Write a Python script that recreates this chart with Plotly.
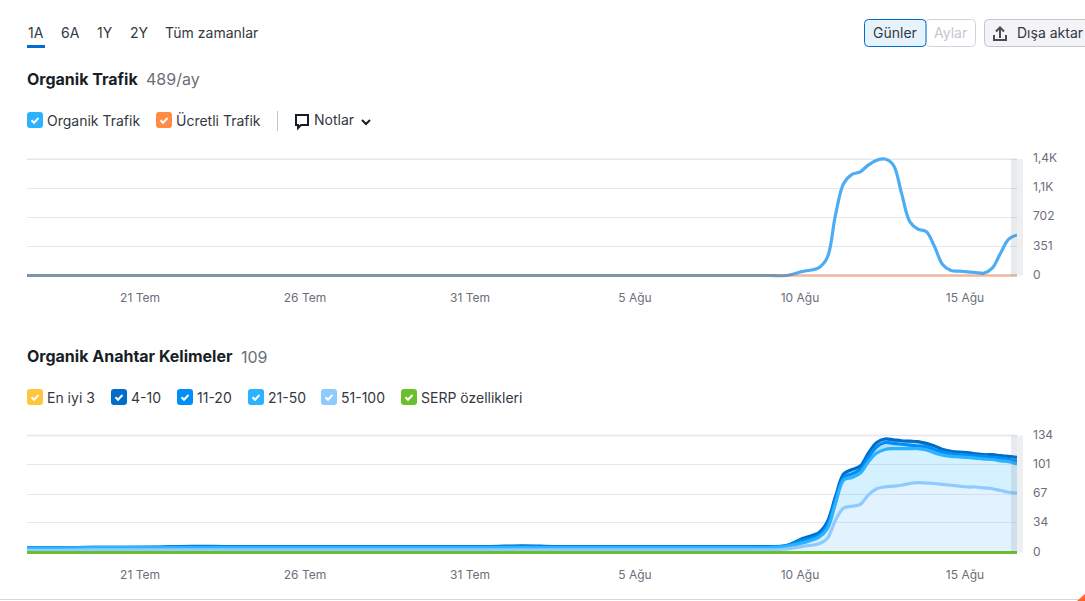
import numpy as np
import pandas as pd
import plotly.graph_objects as go

W = 1085
H = 601

flat_dates = list(pd.date_range("2024-07-18", "2024-08-09"))
curve_dates = list(pd.to_datetime(["2024-08-09 12:00", "2024-08-10 00:00", "2024-08-10 12:00"]))
curve_dates += list(pd.date_range("2024-08-11 00:00", "2024-08-17 00:00", freq="6h"))
dates = flat_dates + curve_dates
tick_dates = ["2024-07-21", "2024-07-26", "2024-07-31", "2024-08-05", "2024-08-10", "2024-08-15"]
tick_labels = ["21 Tem", "26 Tem", "31 Tem", "5 Ağu", "10 Ağu", "15 Ağu"]

organic = [0] * 23 + [0, 0, 48, 96, 215, 731, 1112, 1218, 1250, 1333, 1390, 1404, 1333, 993, 650, 559, 530, 349, 129,
                      60, 52, 44, 36, 28, 88, 269, 438, 489]
paid = [0] * 51
traffic_ticks = [0, 351, 702, 1053, 1404]
traffic_labels = ["0", "351", "702", "1,1K", "1,4K"]

top3 = [0] * 51
kw_51_100 = [2.5, 2.5, 3, 3, 3, 3, 3, 3, 3, 3, 3, 3, 3, 3, 3, 3, 3, 3, 3, 3, 3, 3, 3,
             3, 4, 7, 10, 16, 37, 51, 53, 55, 66, 73, 75, 76, 77, 79, 80,
             79.5, 79, 78, 77, 76, 75, 75, 74, 73, 71, 69, 68]
kw_21_50 = [2.5] * 23 + [2.5, 3, 4, 7.5, 11, 19, 32, 33, 36, 38, 41, 43, 43, 42, 40, 39,
                         38, 35, 33.5, 33, 33.5, 34, 33, 33, 33.5, 34, 35, 33.5]
kw_11_20 = [0.3, 0.3, 0.3, 0.3, 0.5, 0.8, 0.8, 0.8, 0.8, 0.8, 0.8, 0.8, 0.8, 0.8, 0.8, 1, 0.8, 0.8, 0.8, 0.8, 0.8, 0.8,
            0.8, 0.8, 0.6, 3, 2.5, 4, 4, 3, 4, 4, 5, 7, 8, 6, 5, 4, 3,
            3.5, 4, 3.5, 3, 2.5, 2.5, 2.7, 3, 2.5, 3, 2.5, 3.1]
kw_4_10 = [0.2, 0.2, 0.2, 0.2, 0.3, 0.7, 0.5, 0.5, 0.5, 0.5, 0.5, 0.5, 0.5, 0.5, 0.5, 1.2, 0.5, 0.5, 0.5, 0.5, 0.5, 0.5,
           0.5, 0.5, 0.4, 2, 3, 4, 4, 4, 5, 4, 5, 5, 4, 4, 4, 4.5, 5,
           4, 4, 3, 3, 3, 3, 2.3, 2, 3, 3, 3.5, 4.4]
serp = [0] * 51
kw_ticks = [0, 34, 67, 101, 134]

FONT = "Inter"
GRAY = "#6c6e79"
DARK = "#181e25"
SMOOTH = 1.0
LW = 3.2

fig = go.Figure()

# traffic chart
fig.add_trace(go.Scatter(x=dates, y=organic, mode="lines",
                         line=dict(color="#4cadf3", width=LW, shape="spline", smoothing=SMOOTH)))
fig.add_trace(go.Scatter(x=dates, y=paid, mode="lines",
                         line=dict(color="rgba(225,100,40,0.35)", width=LW)))

# keywords chart: stacked fills first, then the lines, lowest band on top
bands = [
    (kw_51_100, "#8fcaff", "rgba(143,202,255,0.25)"),
    (kw_21_50, "#2bb3ff", "rgba(43,179,255,0.2)"),
    (kw_11_20, "#008ff8", "rgba(0,143,248,0.3)"),
    (kw_4_10, "#006dca", "rgba(0,109,202,0.3)"),
]
for vals, col, fill in bands:
    fig.add_trace(go.Scatter(x=dates, y=vals, mode="lines", xaxis="x2", yaxis="y2",
                             stackgroup="one", fillcolor=fill,
                             line=dict(width=0, shape="spline", smoothing=SMOOTH)))
totals = np.cumsum([b[0] for b in bands], axis=0)
for i in [3, 2, 1, 0]:
    fig.add_trace(go.Scatter(x=dates, y=totals[i], mode="lines", xaxis="x2", yaxis="y2",
                             line=dict(color=bands[i][1], width=LW, shape="spline", smoothing=SMOOTH)))
fig.add_trace(go.Scatter(x=dates, y=top3, mode="lines", xaxis="x2", yaxis="y2",
                         line=dict(color="#ffc53d", width=LW)))
fig.add_trace(go.Scatter(x=dates, y=serp, mode="lines", xaxis="x2", yaxis="y2",
                         line=dict(color="#6bbf2e", width=LW)))


def xp(px):
    return px / W


def yp(py):
    return 1 - py / H


def text(x, y, s, size=14, color=DARK, bold=False):
    fig.add_annotation(x=xp(x - 1), y=yp(y), xref="paper", yref="paper", text=f"<b>{s}</b>" if bold else s,
                       showarrow=False, xanchor="left", yanchor="middle", borderpad=0,
                       font=dict(family=FONT, size=size, color=color))


def rrect(x0, y0, x1, y1, r, fill, line=None):
    path = (f"M {xp(x0 + r)} {yp(y0)} L {xp(x1 - r)} {yp(y0)} Q {xp(x1)} {yp(y0)} {xp(x1)} {yp(y0 + r)} "
            f"L {xp(x1)} {yp(y1 - r)} Q {xp(x1)} {yp(y1)} {xp(x1 - r)} {yp(y1)} "
            f"L {xp(x0 + r)} {yp(y1)} Q {xp(x0)} {yp(y1)} {xp(x0)} {yp(y1 - r)} "
            f"L {xp(x0)} {yp(y0 + r)} Q {xp(x0)} {yp(y0)} {xp(x0 + r)} {yp(y0)} Z")
    fig.add_shape(type="path", path=path, xref="paper", yref="paper", fillcolor=fill,
                  line=dict(color=line or fill, width=1 if line else 0))


def polyline(points, color, width=2, closed=False, fill=None, layer="above"):
    path = "M " + " L ".join(f"{xp(a)} {yp(b)}" for a, b in points) + (" Z" if closed else "")
    fig.add_shape(type="path", path=path, xref="paper", yref="paper", fillcolor=fill, layer=layer,
                  line=dict(color=color, width=width))


def checkbox(x, cy, color):
    rrect(x, cy - 8, x + 16, cy + 8, 3, color)
    polyline([(x + 4.5, cy + 0.2), (x + 7, cy + 2.7), (x + 11.5, cy - 2)], "white", 2)


# tabs
for x, s in [(28, "1A"), (61, "6A"), (97, "1Y"), (130, "2Y"), (165, "Tüm zamanlar")]:
    text(x, 33, s, 14, "#333842")
rrect(27, 45, 45, 48, 0, "#006dca")

# buttons
rrect(926, 19.5, 975.5, 46.5, 4, "white", "#d1d4db")
text(934, 33, "Aylar", 14, "#c4c7cf")
rrect(864.5, 19.5, 926, 46.5, 4, "#e6f3fd", "#006dca")
text(873, 33, "Günler", 14, "#333842")
rrect(984.5, 19.5, 1095, 46.5, 4, "#f4f4f8", "#c4c7cf")
text(1017, 33, "Dışa aktar", 14, "#333842")
polyline([(1000, 38), (1000, 28)], "#4a4c56", 2)
polyline([(996, 31.5), (1000, 27.5), (1004, 31.5)], "#4a4c56", 2)
polyline([(994, 35), (994, 40), (1006, 40), (1006, 35)], "#4a4c56", 2)

# traffic header
text(27, 79, "Organik Trafik", 16, DARK, True)
text(146, 79, "489/ay", 16, GRAY)
checkbox(27, 120, "#2bb3ff")
text(47, 120, "Organik Trafik", 14, "#333842")
checkbox(156, 120, "#ff8c43")
text(176, 120, "Ücretli Trafik", 14, "#333842")
polyline([(277.5, 111), (277.5, 131)], "#c4c7cf", 1)
polyline([(296, 115), (308, 115), (308, 125), (301, 125), (298, 128), (298, 125), (296, 125)], "#181e25", 2, True)
text(314, 119.5, "Notlar", 14, "#333842")
polyline([(362, 120), (366, 124), (370, 120)], "#181e25", 2)

# keywords header
text(27, 356, "Organik Anahtar Kelimeler", 16, DARK, True)
text(241, 356.5, "109", 16, GRAY)
for x, col, s in [(27, "#ffc53d", "En iyi 3"), (111, "#006dca", "4-10"), (177, "#008ff8", "11-20"),
                  (248, "#2bb3ff", "21-50"), (321, "#8fcaff", "51-100"), (401, "#6bbf2e", "SERP özellikleri")]:
    checkbox(x, 397, col)
    text(x + 20, 397, s, 14, "#333842")

# lighter top gridline and grey hover band at the right edge of both charts
for top, bottom in [(159, 275.5), (435.5, 552.5)]:
    polyline([(27, top), (1017, top)], "#f0f0f5", 2, layer="below")
    fig.add_shape(type="rect", xref="paper", yref="paper", x0=xp(1011), x1=xp(1017), y0=yp(bottom), y1=yp(top),
                  fillcolor="rgba(90,110,125,0.14)", line_width=0)
    fig.add_shape(type="rect", xref="paper", yref="paper", x0=xp(1017), x1=xp(1023), y0=yp(bottom), y1=yp(top),
                  fillcolor="rgba(90,110,125,0.11)", line_width=0)

# page bottom edge and corner
polyline([(0, 599.5), (1085, 599.5)], "#d5d6dc", 1)
polyline([(1085, 594), (1085, 601), (1077, 601)], "#ff642d", 0, True, "#ff642d")

xaxis_style = dict(
    type="date",
    automargin=False,
    range=[dates[0], dates[-1]],
    tickvals=tick_dates,
    ticktext=tick_labels,
    ticklabelshift=14,
    ticklabelstandoff=9,
    showgrid=False,
    zeroline=False,
    showline=False,
    ticks="",
    tickfont=dict(family=FONT, size=12, color=GRAY),
)
yaxis_style = dict(
    side="right",
    automargin=False,
    gridcolor="#e6e7ee",
    gridwidth=1,
    zeroline=False,
    showline=False,
    ticks="",
    ticklabelstandoff=15,
    ticklabelshift=-1,
    tickfont=dict(family=FONT, size=12, color=GRAY),
)

# the y ranges run 4 px past 0 and the top value so the thick lines are not clipped
fig.update_layout(
    width=W,
    height=H,
    margin=dict(l=0, r=0, t=0, b=0),
    paper_bgcolor="white",
    plot_bgcolor="white",
    showlegend=False,
    xaxis=dict(domain=[xp(27), xp(1017)], anchor="y", **xaxis_style),
    yaxis=dict(domain=[yp(279.5), yp(155)], anchor="x", range=[-48.2, 1452.2], tickvals=traffic_ticks,
               ticktext=traffic_labels, **yaxis_style),
    xaxis2=dict(domain=[xp(27), xp(1017)], anchor="y2", **xaxis_style),
    yaxis2=dict(domain=[yp(556.5), yp(431.5)], anchor="x2", range=[-4.58, 138.58], tickvals=kw_ticks, **yaxis_style),
)

fig.write_html("out.html", config={"displayModeBar": False}, post_script="document.body.style.margin = '0';")
